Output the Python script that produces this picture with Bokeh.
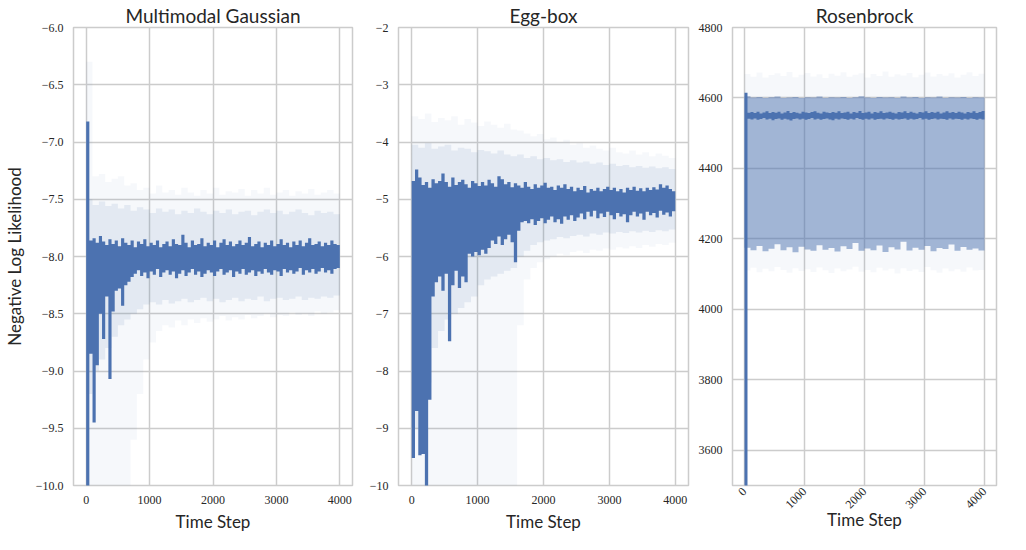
import math
from bokeh.plotting import figure
from bokeh.layouts import row
from bokeh.models import FixedTicker, CustomJSTickFormatter, Range1d
from bokeh.embed import file_html
from bokeh.resources import INLINE

# ---------------- data ----------------
titles = ["Multimodal Gaussian", "Egg-box", "Rosenbrock"]
x_ticks = [0, 1000, 2000, 3000, 4000]
LINE_BIN = 50     # time steps per value of the line envelope arrays
BAND_BIN = 100    # time steps per value of the band arrays

# Multimodal Gaussian: envelope of the (dense, oscillating) mean line
mg_hi = [
    -6.82, -7.86, -7.84, -7.88, -7.82, -7.87, -7.90, -7.85, -7.89, -7.86,
    -7.91, -7.84, -7.88, -7.90, -7.86, -7.92, -7.87, -7.89, -7.85, -7.91,
    -7.88, -7.90, -7.86, -7.92, -7.89, -7.87, -7.91, -7.85, -7.89, -7.90,
    -7.81, -7.88, -7.92, -7.86, -7.90, -7.89, -7.84, -7.91, -7.88, -7.90,
    -7.86, -7.92, -7.88, -7.85, -7.90, -7.87, -7.91, -7.89, -7.86, -7.90,
    -7.88, -7.83, -7.91, -7.89, -7.87, -7.92, -7.88, -7.90, -7.86, -7.91,
    -7.89, -7.85, -7.90, -7.88, -7.92, -7.87, -7.90, -7.86, -7.91, -7.88,
    -7.84, -7.90, -7.89, -7.87, -7.91, -7.88, -7.90, -7.86, -7.89, -7.90,
]
mg_lo = [
    -10.2, -8.85, -9.45, -8.95, -8.50, -8.72, -8.35, -9.07, -8.48, -8.30,
    -8.28, -8.43, -8.25, -8.22, -8.18, -8.15, -8.12, -8.17, -8.14, -8.19,
    -8.13, -8.16, -8.11, -8.18, -8.14, -8.12, -8.16, -8.13, -8.19, -8.15,
    -8.12, -8.17, -8.14, -8.11, -8.16, -8.13, -8.18, -8.15, -8.12, -8.14,
    -8.17, -8.13, -8.11, -8.16, -8.14, -8.12, -8.18, -8.13, -8.15, -8.11,
    -8.16, -8.14, -8.12, -8.17, -8.13, -8.15, -8.11, -8.14, -8.16, -8.12,
    -8.13, -8.17, -8.11, -8.14, -8.12, -8.15, -8.13, -8.10, -8.16, -8.12,
    -8.14, -8.11, -8.15, -8.13, -8.10, -8.14, -8.12, -8.15, -8.11, -8.10,
]
mg_out_hi = [
    -6.30, -7.30, -7.28, -7.35, -7.32, -7.30, -7.38, -7.36, -7.42, -7.40,
    -7.45, -7.38, -7.44, -7.42, -7.46, -7.40, -7.44, -7.47, -7.42, -7.45,
    -7.40, -7.46, -7.43, -7.44, -7.41, -7.47, -7.42, -7.45, -7.40, -7.46,
    -7.44, -7.42, -7.47, -7.43, -7.45, -7.41, -7.46, -7.44, -7.42, -7.45,
]
mg_in_hi = [
    -7.50, -7.55, -7.52, -7.56, -7.54, -7.58, -7.55, -7.60, -7.57, -7.59,
    -7.62, -7.58, -7.61, -7.59, -7.63, -7.60, -7.62, -7.58, -7.61, -7.63,
    -7.60, -7.62, -7.59, -7.63, -7.61, -7.60, -7.64, -7.61, -7.59, -7.62,
    -7.60, -7.63, -7.61, -7.59, -7.62, -7.64, -7.60, -7.62, -7.61, -7.63,
]
mg_in_lo = [
    -9.20, -9.00, -8.90, -8.80, -8.70, -8.60, -8.55, -8.50, -8.46, -8.42,
    -8.40, -8.42, -8.38, -8.41, -8.39, -8.37, -8.40, -8.38, -8.36, -8.39,
    -8.37, -8.40, -8.38, -8.36, -8.39, -8.37, -8.38, -8.35, -8.39, -8.37,
    -8.36, -8.38, -8.37, -8.35, -8.38, -8.36, -8.37, -8.35, -8.36, -8.34,
]
mg_out_lo = [
    -10.3, -10.3, -10.3, -10.3, -10.3, -10.3, -10.3, -9.60, -9.20, -8.90,
    -8.75, -8.65, -8.60, -8.62, -8.56, -8.60, -8.55, -8.58, -8.54, -8.57,
    -8.55, -8.52, -8.56, -8.53, -8.55, -8.51, -8.54, -8.52, -8.50, -8.53,
    -8.51, -8.52, -8.49, -8.51, -8.50, -8.52, -8.48, -8.50, -8.49, -8.47,
]

# Egg-box
eb_hi = [
    -4.68, -4.48, -4.62, -4.75, -4.70, -4.80, -4.65, -4.72, -4.68, -4.55,
    -4.70, -4.78, -4.62, -4.75, -4.70, -4.66, -4.74, -4.80, -4.68, -4.72,
    -4.77, -4.70, -4.76, -4.66, -4.72, -4.78, -4.60, -4.65, -4.74, -4.70,
    -4.79, -4.72, -4.76, -4.80, -4.70, -4.78, -4.82, -4.74, -4.80, -4.76,
    -4.71, -4.80, -4.78, -4.84, -4.76, -4.80, -4.74, -4.82, -4.78, -4.86,
    -4.80, -4.84, -4.77, -4.88, -4.82, -4.85, -4.80, -4.86, -4.82, -4.78,
    -4.84, -4.80, -4.86, -4.82, -4.88, -4.80, -4.84, -4.78, -4.85, -4.81,
    -4.86, -4.80, -4.84, -4.79, -4.83, -4.74, -4.80, -4.76, -4.82, -4.86,
]
eb_lo = [
    -9.52, -8.70, -9.47, -9.45, -10.2, -8.50, -6.70, -6.45, -6.35, -6.60,
    -6.30, -7.48, -6.50, -6.25, -6.55, -6.35, -6.45, -5.95, -6.00, -5.92,
    -5.98, -5.88, -5.95, -5.85, -5.72, -5.78, -5.65, -5.80, -5.70, -5.62,
    -5.75, -6.10, -5.55, -5.40, -5.38, -5.42, -5.35, -5.45, -5.38, -5.33,
    -5.42, -5.36, -5.30, -5.40, -5.35, -5.43, -5.30, -5.36, -5.28, -5.38,
    -5.32, -5.25, -5.35, -5.22, -5.30, -5.20, -5.33, -5.25, -5.31, -5.22,
    -5.28, -5.35, -5.24, -5.30, -5.26, -5.40, -5.28, -5.22, -5.30, -5.25,
    -5.36, -5.22, -5.28, -5.24, -5.32, -5.20, -5.27, -5.23, -5.30, -5.21,
]
eb_out_hi = [
    -3.55, -3.60, -3.50, -3.65, -3.58, -3.62, -3.55, -3.70, -3.60, -3.66,
    -3.72, -3.64, -3.70, -3.75, -3.68, -3.78, -3.80, -3.85, -3.90, -3.86,
    -3.95, -3.92, -4.00, -3.96, -4.05, -4.02, -4.10, -4.06, -4.12, -4.15,
    -4.10, -4.18, -4.20, -4.15, -4.22, -4.18, -4.25, -4.20, -4.24, -4.28,
]
eb_in_hi = [
    -4.05, -4.10, -4.02, -4.12, -4.08, -4.05, -4.15, -4.10, -4.12, -4.18,
    -4.14, -4.16, -4.20, -4.15, -4.22, -4.25, -4.22, -4.28, -4.25, -4.30,
    -4.28, -4.32, -4.30, -4.35, -4.32, -4.36, -4.34, -4.38, -4.36, -4.40,
    -4.38, -4.42, -4.40, -4.44, -4.42, -4.45, -4.43, -4.46, -4.44, -4.47,
]
eb_in_lo = [
    -9.00, -8.60, -8.20, -7.60, -7.30, -7.10, -7.00, -6.90, -6.80, -6.70,
    -6.50, -6.40, -6.35, -6.30, -6.25, -6.20, -6.00, -5.90, -5.80, -5.75,
    -5.72, -5.70, -5.66, -5.68, -5.64, -5.62, -5.65, -5.60, -5.62, -5.58,
    -5.60, -5.57, -5.59, -5.56, -5.58, -5.55, -5.57, -5.54, -5.56, -5.53,
]
eb_out_lo = [
    -10.5, -10.5, -10.5, -10.5, -10.5, -10.5, -10.5, -10.5, -10.5, -10.5,
    -10.5, -10.5, -10.5, -10.5, -10.5, -10.5, -7.20, -6.40, -6.20, -6.10,
    -6.05, -6.00, -5.95, -5.98, -5.92, -5.90, -5.94, -5.88, -5.90, -5.86,
    -5.88, -5.84, -5.86, -5.82, -5.85, -5.80, -5.83, -5.78, -5.80, -5.76,
]

# Rosenbrock
rb_hi = [
    4615, 4558, 4560, 4557, 4561, 4556, 4559, 4562, 4557, 4560,
    4558, 4561, 4556, 4559, 4563, 4557, 4560, 4558, 4556, 4561,
    4559, 4557, 4560, 4562, 4558, 4556, 4561, 4559, 4557, 4560,
    4558, 4562, 4557, 4559, 4561, 4556, 4560, 4558, 4563, 4557,
    4559, 4561, 4556, 4560, 4558, 4562, 4557, 4559, 4561, 4558,
    4556, 4560, 4559, 4562, 4557, 4561, 4558, 4556, 4560, 4559,
    4562, 4557, 4560, 4558, 4561, 4556, 4559, 4562, 4558, 4560,
    4557, 4561, 4559, 4556, 4560, 4558, 4562, 4557, 4560, 4563,
]
rb_lo = [
    3400, 4541, 4539, 4542, 4538, 4540, 4543, 4539, 4541, 4537,
    4540, 4542, 4538, 4541, 4539, 4536, 4540, 4542, 4539, 4541,
    4538, 4540, 4543, 4539, 4541, 4538, 4540, 4542, 4539, 4537,
    4541, 4539, 4542, 4540, 4538, 4541, 4539, 4543, 4540, 4538,
    4541, 4539, 4542, 4538, 4540, 4541, 4539, 4542, 4540, 4538,
    4541, 4539, 4540, 4542, 4538, 4541, 4539, 4540, 4543, 4539,
    4541, 4538, 4540, 4542, 4539, 4541, 4540, 4538, 4542, 4539,
    4541, 4540, 4538, 4541, 4539, 4542, 4540, 4538, 4541, 4539,
]
rb_in_hi = [
    4605, 4601, 4603, 4600, 4602, 4604, 4600, 4601, 4603, 4600,
    4602, 4601, 4604, 4600, 4602, 4601, 4603, 4600, 4602, 4605,
    4601, 4600, 4603, 4601, 4602, 4600, 4604, 4601, 4603, 4600,
    4602, 4601, 4604, 4600, 4602, 4601, 4603, 4600, 4602, 4601,
]
rb_in_lo = [
    4175, 4168, 4180, 4165, 4172, 4185, 4168, 4176, 4162, 4178,
    4170, 4166, 4182, 4169, 4174, 4164, 4179, 4171, 4188, 4166,
    4173, 4168, 4181, 4163, 4176, 4170, 4192, 4167, 4175, 4169,
    4180, 4165, 4174, 4171, 4184, 4166, 4177, 4169, 4173, 4167,
]
rb_out_hi = [
    4668, 4660, 4672, 4658, 4665, 4670, 4662, 4674, 4659, 4666,
    4671, 4661, 4667, 4657, 4669, 4663, 4673, 4660, 4666, 4670,
    4658, 4668, 4662, 4675, 4660, 4667, 4664, 4671, 4659, 4666,
    4672, 4661, 4668, 4663, 4670, 4658, 4666, 4673, 4662, 4669,
]
rb_out_lo = [
    4110, 4118, 4105, 4115, 4108, 4120, 4112, 4104, 4117, 4109,
    4114, 4106, 4119, 4111, 4103, 4116, 4108, 4113, 4121, 4107,
    4112, 4105, 4118, 4110, 4115, 4102, 4117, 4109, 4113, 4106,
    4120, 4111, 4104, 4116, 4108, 4114, 4107, 4119, 4110, 4112,
]

mg_yticks = [-10.0, -9.5, -9.0, -8.5, -8.0, -7.5, -7.0, -6.5, -6.0]
eb_yticks = [-10, -9, -8, -7, -6, -5, -4, -3, -2]
rb_yticks = [3600, 3800, 4000, 4200, 4400, 4600, 4800]

# ---------------- styling ----------------
BLUE = "#4C72B0"
GRID = "#cccccc"
TEXT = "#262626"
SANS = "Lato"
SERIF = "Liberation Serif"
HEIGHT = 534
BOTTOM = 40


def step_edges(values, bin_size):
    xs = [i * bin_size for i in range(len(values) + 1)]
    ys = list(values) + [values[-1]]
    return xs, ys


def panel(title, width, left, right, xr, yr, yticks, fmt, lo, hi,
          out_lo, out_hi, in_lo, in_hi, in_alpha, ylabel=None, rotate=False):
    p = figure(width=width, height=HEIGHT, x_range=Range1d(*xr), y_range=Range1d(*yr),
               output_backend="svg", toolbar_location=None,
               min_border_left=left, min_border_right=right,
               min_border_top=0, min_border_bottom=BOTTOM,
               background_fill_color="white", border_fill_color="white")
    p.title.text = title
    p.title.align = "center"
    p.title.text_font = SANS
    p.title.text_font_size = "19px"
    p.title.text_font_style = "normal"
    p.title.text_color = TEXT
    p.title.standoff = 2

    p.outline_line_color = GRID
    p.outline_line_width = 1.5

    p.xaxis.ticker = FixedTicker(ticks=x_ticks)
    p.yaxis.ticker = FixedTicker(ticks=yticks)
    p.yaxis.formatter = CustomJSTickFormatter(code=fmt)
    for ax in (p.xaxis[0], p.yaxis[0]):
        ax.axis_line_color = None
        ax.major_tick_line_color = None
        ax.minor_tick_line_color = None
        ax.major_tick_out = 0
        ax.major_tick_in = 0
        ax.major_label_text_font = SERIF
        ax.major_label_text_font_size = "12px"
        ax.major_label_text_color = TEXT
        ax.axis_label_text_font = SANS
        ax.axis_label_text_font_size = "17px"
        ax.axis_label_text_font_style = "normal"
        ax.axis_label_text_color = TEXT
    p.yaxis.major_label_standoff = 10
    p.xaxis.axis_label = "Time Step"
    if ylabel:
        p.yaxis.axis_label = ylabel
        p.yaxis.axis_label_standoff = 8
    if rotate:
        p.xaxis.major_label_orientation = math.pi / 4
        p.xaxis.major_label_standoff = 4
        p.xaxis.axis_label_standoff = -6
    else:
        p.xaxis.major_label_standoff = 10
        p.xaxis.axis_label_standoff = 4

    p.xgrid.grid_line_color = GRID
    p.ygrid.grid_line_color = GRID
    p.xgrid.grid_line_width = 1.5
    p.ygrid.grid_line_width = 1.5

    bx, by1 = step_edges(out_lo, BAND_BIN)
    _, by2 = step_edges(out_hi, BAND_BIN)
    p.varea_step(x=bx, y1=by1, y2=by2, step_mode="after", fill_color=BLUE, fill_alpha=0.05)
    bx, by1 = step_edges(in_lo, BAND_BIN)
    _, by2 = step_edges(in_hi, BAND_BIN)
    p.varea_step(x=bx, y1=by1, y2=by2, step_mode="after", fill_color=BLUE, fill_alpha=in_alpha)
    lx, ly1 = step_edges(lo, LINE_BIN)
    _, ly2 = step_edges(hi, LINE_BIN)
    p.varea_step(x=lx, y1=ly1, y2=ly2, step_mode="after", fill_color=BLUE, fill_alpha=1.0)
    return p


p1 = panel(titles[0], 358, 65, 6, (-200, 4200), (-10, -6), mg_yticks,
           "return (tick < 0 ? '\u2212' : '') + Math.abs(tick).toFixed(1);",
           mg_lo, mg_hi, mg_out_lo, mg_out_hi, mg_in_lo, mg_in_hi, 0.11,
           ylabel="Negative Log Likelihood")
p2 = panel(titles[1], 336, 40, 6, (-200, 4200), (-10, -2), eb_yticks,
           "return (tick < 0 ? '\u2212' : '') + Math.abs(tick).toFixed(0);",
           eb_lo, eb_hi, eb_out_lo, eb_out_hi, eb_in_lo, eb_in_hi, 0.11)
p3 = panel(titles[2], 316, 38, 14, (-200, 4200), (3500, 4800), rb_yticks,
           "return Math.round(tick).toString();",
           rb_lo, rb_hi, rb_out_lo, rb_out_hi, rb_in_lo, rb_in_hi, 0.5, rotate=True)

layout = row(p1, p2, p3)
open("out.html", "w").write(file_html(layout, INLINE))
